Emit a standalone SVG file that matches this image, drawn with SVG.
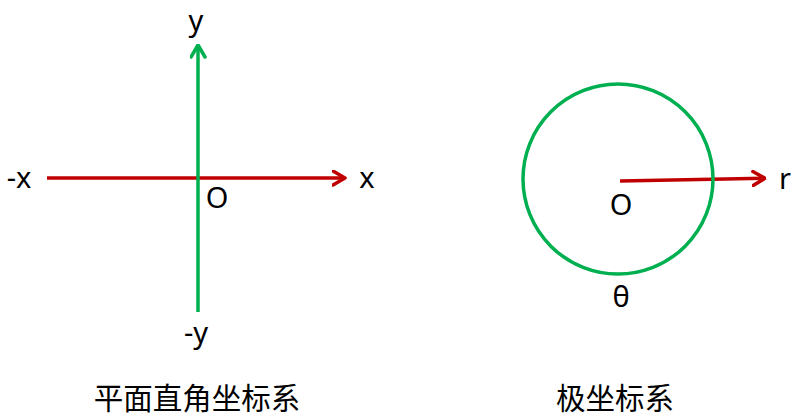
<svg xmlns="http://www.w3.org/2000/svg" width="795" height="419" viewBox="0 0 795 419">
<defs>
<style>
.t{font-family:"Noto Sans","Noto Sans CJK SC",sans-serif;font-size:29px;fill:#000;text-anchor:middle}
.c{font-family:"Noto Sans CJK SC",sans-serif;font-size:29.5px;fill:#000;text-anchor:middle}
.red{stroke:#C00000;stroke-width:3.5;fill:none}
.grn{stroke:#00B050;stroke-width:3.5;fill:none}
</style>
<marker id="ar" viewBox="0 0 15 17" refX="13.5" refY="8.5" markerWidth="15" markerHeight="17" markerUnits="userSpaceOnUse" orient="auto">
<path d="M1.5,1.5 L13.5,8.5 L1.5,15.5" fill="none" stroke="#C00000" stroke-width="3.5" stroke-linecap="round" stroke-linejoin="round"/>
</marker>
<marker id="ag" viewBox="0 0 15 17" refX="13.5" refY="8.5" markerWidth="15" markerHeight="17" markerUnits="userSpaceOnUse" orient="auto">
<path d="M1.5,1.5 L13.5,8.5 L1.5,15.5" fill="none" stroke="#00B050" stroke-width="3.5" stroke-linecap="round" stroke-linejoin="round"/>
</marker>
</defs>
<rect width="795" height="419" fill="#fff"/>
<g id="connectors">
<line class="red" x1="47" y1="178" x2="345" y2="178" marker-end="url(#ar)"/>
<line class="grn" x1="198" y1="312" x2="198" y2="45" marker-end="url(#ag)"/>
<line class="red" x1="620" y1="181" x2="765" y2="178.3" marker-end="url(#ar)"/>
</g>
<g id="cartesian">
<text class="t" x="196" y="31">y</text>
<text class="t" x="19" y="188">-x</text>
<text class="t" x="367" y="188">x</text>
<text class="t" x="217" y="208">O</text>
<text class="t" x="196" y="343">-y</text>
<text class="c" x="197" y="409">平面直角坐标系</text>
</g>
<g id="polar">
<circle class="grn" cx="618" cy="179" r="95"/>
<text class="t" x="621" y="215">O</text>
<text class="t" x="621" y="307">θ</text>
<text class="t" x="785" y="189">r</text>
<text class="c" x="615" y="409">极坐标系</text>
</g>
</svg>
